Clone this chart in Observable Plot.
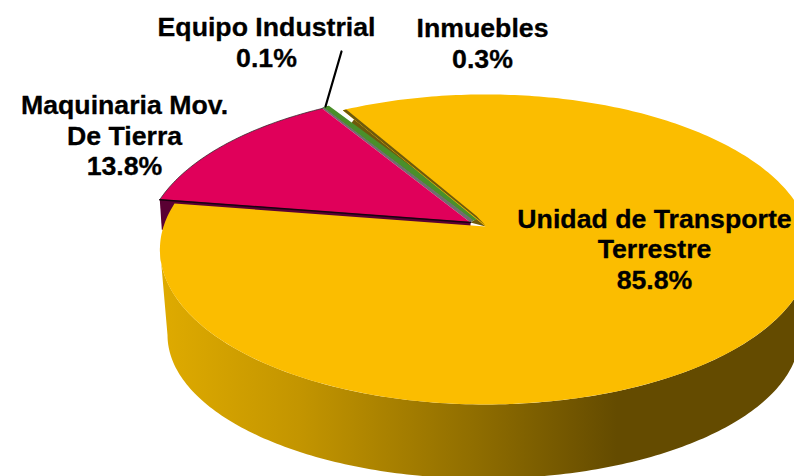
<!DOCTYPE html>
<html><head><meta charset="utf-8">
<style>html,body{margin:0;padding:0;background:#fff;overflow:hidden}</style>
<script src="https://cdn.jsdelivr.net/npm/d3@7"></script>
<script src="https://cdn.jsdelivr.net/npm/@observablehq/plot@0.6"></script>
</head><body><div id="chart"></div>
<script>
const categories = ["Unidad de Transporte\nTerrestre", "Maquinaria Mov.\nDe Tierra", "Equipo Industrial", "Inmuebles"];
const shares = [85.8, 13.8, 0.1, 0.3];
const sliceColors = ["#FBBD00", "#E0005A", "#6E6E6E", "#4A8F2A"];

// layout of the tilted pie
const firstAngle = -30;
const rest = {ax: 470, ay: 222, R: 322, Ry: 151.3, k: 0.155};
const exploded = {ax: 485, ay: 226, R: 322, Ry: 151.6, k: 0.148};
const base = {cx: 483, cy: 334.6, rx: 316, ry: 143.6};
const labelTops = [[654, 205.5], [124, 92], [266, 14], [482, 15]];
const leader = [{x: 341, y: 51}, {x: 325, y: 106}];
const fontPx = 26.7, linePx = 30.5;

const rad = d => d * Math.PI / 180;
function project(m, deg) {
  const u = Math.sin(rad(deg)), v = -Math.cos(rad(deg));
  const s = 1 / (1 - m.k * v);
  return {x: m.ax + m.R * u * s, y: m.ay + m.Ry * v * s};
}
function wedge(m, a0, a1) {
  const n = Math.max(2, Math.ceil(Math.abs(a1 - a0)));
  const pts = [{x: m.ax, y: m.ay}];
  for (let i = 0; i <= n; i++) pts.push(project(m, a0 + (a1 - a0) * i / n));
  return pts;
}
const along = (p, q, t) => ({x: p.x + (q.x - p.x) * t, y: p.y + (q.y - p.y) * t});

// slice angles from the values
let acc = firstAngle;
const slices = shares.map((v, i) => {
  const a0 = acc, a1 = acc + v / 100 * 360;
  acc = a1;
  return {a0, a1, color: sliceColors[i]};
});
const [yellow, red, grey, green] = slices;

const poly = (pts, o) => Plot.line(pts, {x: "x", y: "y", stroke: "none", ...o});

// outer wall: front rim of the exploded slice and the rim of the base
const wallPts = [];
for (const a of d3.range(80, 263, 1)) wallPts.push(project(exploded, a));
for (const a of d3.range(0, 181, 1)) {
  wallPts.push({x: base.cx - base.rx * Math.cos(rad(a)), y: base.cy + base.ry * Math.sin(rad(a))});
}

const apex = {x: rest.ax, y: rest.ay};
// maroon cut wall of the red slice
const d = 30;
const redEdgeA = project(rest, red.a0);
const redWall = [redEdgeA, apex, {x: rest.ax, y: rest.ay + d}, {x: redEdgeA.x + 2, y: redEdgeA.y + d}];

// grey and green bands keep some width down to the centre
const greyApex = {x: apex.x + 1.5, y: apex.y - 2.5};
const greenApex = {x: apex.x + 8, y: apex.y - 5};
const greenRim = project(rest, green.a1);
const greyBand = [project(rest, grey.a0), project(rest, grey.a1), greyApex, apex];
const greenBand = [project(rest, green.a0), greenRim, greenApex, greyApex];

// olive band along the start edge of the exploded slice, and the dark gap behind the green band
const yStart = project(exploded, yellow.a0);
const yApex = {x: exploded.ax, y: exploded.ay - 1};
const olive = [yStart, {x: yStart.x + 3.5, y: yStart.y - 0.6},
  {x: yApex.x - 9, y: yApex.y - 9.6}, yApex];
const gapFill = [along(yStart, yApex, 0.08), yApex, greenApex, along(greenRim, greenApex, 0.15)];
const tip = [apex, greenApex, yApex, {x: exploded.ax, y: exploded.ay}];

const defs = () => {
  const s = d3.create("svg:defs");
  const g = s.append("linearGradient").attr("id", "wall").attr("gradientUnits", "userSpaceOnUse")
    .attr("x1", 159).attr("x2", 794).attr("y1", 0).attr("y2", 0);
  [[0, "#DFAB00"], [0.22, "#C39500"], [0.5, "#8F6D00"], [0.72, "#644B00"], [1, "#644B00"]].forEach(([o, c]) =>
    g.append("stop").attr("offset", o).attr("stop-color", c));
  return s.node();
};

const labels = categories.map((c, i) => ({
  text: c + "\n" + shares[i].toFixed(1) + "%",
  x: labelTops[i][0], y: labelTops[i][1]
}));

const chart = Plot.plot({
  width: 794, height: 476, margin: 0,
  x: {domain: [0, 794], range: [0, 794], axis: null},
  y: {domain: [0, 476], range: [0, 476], axis: null},
  marks: [
    defs,
    poly(redWall, {fill: "#5A0033"}),
    poly(wallPts, {fill: "url(#wall)"}),
    poly(tip, {fill: "#6E5A0C"}),
    poly(gapFill, {fill: "#6E5A0C"}),
    poly(greenBand, {fill: green.color, stroke: green.color, strokeWidth: 2.4, strokeLinejoin: "round"}),
    poly(greyBand, {fill: grey.color, stroke: grey.color, strokeWidth: 1.2}),
    poly(wedge(rest, red.a0, red.a1), {fill: red.color, stroke: "#3a2a30", strokeWidth: 0.8}),
    Plot.line([redEdgeA, apex], {x: "x", y: "y", stroke: "#1a0010", strokeWidth: 1.5}),
    poly(wedge(exploded, yellow.a0, yellow.a1), {fill: yellow.color}),
    poly(olive, {fill: "#6E5A0C"}),
    Plot.line(leader, {x: "x", y: "y", stroke: "#000", strokeWidth: 2.2}),
    Plot.text(labels, {
      x: "x", y: "y", text: "text", textAnchor: "middle", lineAnchor: "top",
      fontFamily: "Liberation Sans", fontWeight: "bold", fontSize: fontPx, lineHeight: linePx / fontPx,
      fill: "#000", stroke: "#000", strokeWidth: 0.3
    })
  ]
});
document.getElementById("chart").appendChild(chart);
</script></body></html>
